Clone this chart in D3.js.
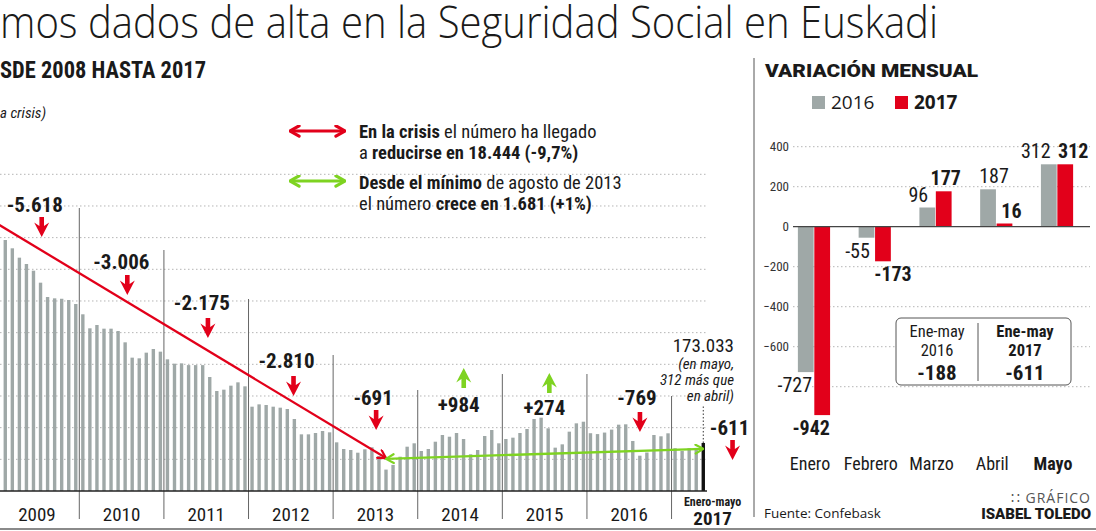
<!DOCTYPE html>
<html>
<head>
<meta charset="utf-8">
<script src="https://cdnjs.cloudflare.com/ajax/libs/d3/7.8.5/d3.min.js"></script>
<style>
  body { margin: 0; background: #fff; }
  svg { display: block; }
  text { font-family: 'Liberation Sans Narrow', 'Roboto Condensed', 'DejaVu Sans Condensed', sans-serif; fill: #1a1a1a; }
</style>
</head>
<body>
<div id="chart"></div>
<script>
// ---- data ----
const afiliados2009 = [186400, 185851, 185326, 184735, 184335, 183913, 183156, 182251, 182167, 182140, 182062, 181809];
const afiliados2010 = [181159, 180274, 180483, 180251, 180251, 180104, 179389, 178421, 178379, 178736, 178967, 178799];
const afiliados2011 = [178315, 178041, 178060, 177950, 177950, 177950, 177199, 176315, 176399, 176652, 176862, 176610];
const afiliados2012 = [175325, 175472, 175431, 175325, 175262, 175178, 174547, 173578, 173578, 173663, 173789, 173705];
const afiliados2013 = [173073, 172652, 172589, 172419, 172633, 172760, 172210, 171352, 171650, 172166, 172798, 173012];
const afiliados2014 = [172526, 172652, 173113, 173536, 173429, 173663, 173284, 172318, 172589, 173473, 173852, 173012];
const afiliados2015 = [173284, 173368, 173663, 173915, 174547, 174631, 173957, 172737, 172947, 173747, 174273, 174376];
const afiliados2016 = [173649, 173594, 173690, 173877, 174189, 174212, 173158, 172229, 172431, 173536, 173454, 173643];
const afiliados2017 = [172701, 172528, 172705, 172721, 173033];

const years = [2009, 2010, 2011, 2012, 2013, 2014, 2015, 2016, 2017];
const yearChanges = ["-5.618", "-3.006", "-2.175", "-2.810", "-691", "+984", "+274", "-769", "-611"];
const gridValues = [172000, 174000, 176000, 178000, 180000, 182000, 184000, 186000, 188000, 190000];

// arrows: crisis (peak Feb 2008 -> Aug 2013), recovery (Aug 2013 -> May 2017)
const crisisArrow = [{ key: "2008-02", value: 189796 }, { key: "2013-08", value: 172080 }];
const recoveryArrow = [{ key: "2013-08", value: 172030 }, { key: "2017-05", value: 172660 }];

const meses = ["Enero", "Febrero", "Marzo", "Abril", "Mayo"];
const var2016 = [-727, -55, 96, 187, 312];
const var2017 = [-942, -173, 177, 16, 312];
const varTicks = [400, 200, 0, -200, -400, -600];
const varGrid = [400, 200, -200, -400, -600, -800];
const resumen = [{ label: "Ene-may", year: "2016", total: "-188", bold: false },
                 { label: "Ene-may", year: "2017", total: "-611", bold: true }];

// ---- layout ----
const W = 1096, H = 531;
const GREY = "#9fa8a7", RED = "#e2001a", GREEN = "#7ed321";

// annotation placement per year (px from the start of the year's column)
const annotLayout = [
  { dx: 40, y: 212, adx: 47, ay: 217 },
  { dx: 42, y: 269, adx: 48, ay: 275 },
  { dx: 38, y: 310, adx: 44, ay: 318 },
  { dx: 38, y: 368, adx: 45, ay: 376 },
  { dx: 40, y: 405, adx: 43, ay: 410 },
  { dx: 41, y: 412, adx: 46, ay: 368 },
  { dx: 42, y: 415, adx: 47, ay: 373 },
  { dx: 50, y: 405, adx: 53, ay: 412 },
  { dx: 58, y: 435, adx: 61, ay: 440 }
];
const dividerTops = [208, 250, 299, 355, 390, 374, 374, 396];
const varLabelDx = { 2016: [-11, -9, -9, 6, -13], 2017: [-11, 10, 2, 7, 8] };

const svg = d3.select("#chart").append("svg")
    .attr("width", W)
    .attr("height", H);

const defs = svg.append("defs");
function addMarker(id, color, size, sw) {
  defs.append("marker")
      .attr("id", id)
      .attr("viewBox", "0 0 10 10")
      .attr("refX", 9).attr("refY", 5)
      .attr("markerUnits", "userSpaceOnUse")
      .attr("markerWidth", size).attr("markerHeight", size)
      .attr("orient", "auto-start-reverse")
      .append("path")
      .attr("d", "M2,1 L9,5 L2,9")
      .attr("fill", "none")
      .attr("stroke", color)
      .attr("stroke-width", sw)
      .attr("stroke-linecap", "round");
}
addMarker("headRed", RED, 11, 2);
addMarker("headGreen", GREEN, 11, 2);
addMarker("legRed", RED, 13, 2.4);
addMarker("legGreen", GREEN, 13, 2.4);

// ---- titles ----
svg.append("text")
    .attr("x", 0).attr("y", 38)
    .style("font-family", "'Open Sans', Lato, sans-serif")
    .style("font-weight", 300)
    .style("font-size", "44px")
    .attr("textLength", 938)
    .attr("lengthAdjust", "spacingAndGlyphs")
    .text("mos dados de alta en la Seguridad Social en Euskadi");

svg.append("text")
    .attr("x", 0).attr("y", 78)
    .style("font-weight", 700)
    .style("font-size", "23px")
    .attr("textLength", 206)
    .attr("lengthAdjust", "spacingAndGlyphs")
    .text("SDE 2008 HASTA 2017");

svg.append("text")
    .attr("x", 0).attr("y", 118)
    .style("font-style", "italic")
    .style("font-size", "15px")
    .text("a crisis)");

// ---- main chart ----
const monthKeys = [];
for (let yr = 2008; yr <= 2017; yr++) {
  for (let m = 1; m <= 12; m++) {
    if (yr === 2017 && m > 5) break;
    monthKeys.push(`${yr}-${String(m).padStart(2, "0")}`);
  }
}
const seriesByYear = [afiliados2009, afiliados2010, afiliados2011, afiliados2012, afiliados2013,
                      afiliados2014, afiliados2015, afiliados2016, afiliados2017];
const bars = seriesByYear.flatMap((vals, j) =>
  vals.map((v, i) => ({ key: `${years[j]}-${String(i + 1).padStart(2, "0")}`, value: v })));

const x = d3.scaleBand()
    .domain(monthKeys)
    .range([-89.9, 706.8])
    .paddingInner(0.52)
    .paddingOuter(0.26);
const y = d3.scaleLinear()
    .domain([170000, 190000])
    .range([491, 174.3]);

const cellStart = k => x(k) - x.step() * x.paddingOuter();
const yearStart = yr => cellStart(`${yr}-01`);
const mid = k => x(k) + x.bandwidth() / 2;

const main = svg.append("g");

// dotted gridlines
main.selectAll(".grid")
    .data(gridValues)
    .join("line")
    .attr("class", "grid")
    .attr("x1", 0).attr("x2", 708)
    .attr("y1", d => y(d)).attr("y2", d => y(d))
    .attr("stroke", "#b5b5b5")
    .attr("stroke-width", 1)
    .attr("stroke-dasharray", "1.5,2.5");

// bars
main.selectAll(".bar")
    .data(bars)
    .join("rect")
    .attr("class", "bar")
    .attr("x", d => x(d.key))
    .attr("width", x.bandwidth())
    .attr("y", d => y(d.value))
    .attr("height", d => y(170000) - y(d.value))
    .attr("fill", (d, i) => i === bars.length - 1 ? "#111" : GREY);

// year dividers
main.selectAll(".divider")
    .data(years.slice(0, -1))
    .join("line")
    .attr("class", "divider")
    .attr("x1", d => yearStart(d + 1)).attr("x2", d => yearStart(d + 1))
    .attr("y1", (d, i) => dividerTops[i]).attr("y2", 519)
    .attr("stroke", "#666")
    .attr("stroke-width", 1);

// baseline
main.append("line")
    .attr("x1", 0).attr("x2", 707)
    .attr("y1", y(170000)).attr("y2", y(170000))
    .attr("stroke", "#222")
    .attr("stroke-width", 1.6);

// year labels
main.selectAll(".year-label")
    .data(years.slice(0, -1))
    .join("text")
    .attr("class", "year-label")
    .attr("x", d => yearStart(d) + 6 * x.step())
    .attr("y", 521)
    .attr("text-anchor", "middle")
    .style("font-size", "19px")
    .text(d => d);

main.append("text")
    .attr("x", yearStart(2017) + 41).attr("y", 506)
    .attr("text-anchor", "middle")
    .style("font-size", "12px").style("font-weight", 700)
    .text("Enero-mayo");
main.append("text")
    .attr("x", yearStart(2017) + 41).attr("y", 525)
    .attr("text-anchor", "middle")
    .style("font-size", "19px").style("font-weight", 700)
    .text("2017");

// crisis and recovery arrows
const line = d3.line().x(d => mid(d.key)).y(d => y(d.value));
main.append("path")
    .attr("d", line(crisisArrow))
    .attr("fill", "none")
    .attr("stroke", RED)
    .attr("stroke-width", 2.3)
    .attr("marker-end", "url(#headRed)");
main.append("path")
    .attr("d", line(recoveryArrow))
    .attr("fill", "none")
    .attr("stroke", GREEN)
    .attr("stroke-width", 2.3)
    .attr("marker-start", "url(#headGreen)")
    .attr("marker-end", "url(#headGreen)");

// yearly change annotations
const arrowDown = "M-2.3,0 L2.3,0 L2.3,9 L7.5,5.5 L0,20 L-7.5,5.5 L-2.3,9 Z";
const arrowUp = "M-2.3,20 L2.3,20 L2.3,11 L7.5,14.5 L0,0 L-7.5,14.5 L-2.3,11 Z";
years.forEach((yr, i) => {
  const lay = annotLayout[i];
  const up = yearChanges[i].startsWith("+");
  main.append("text")
      .attr("x", yearStart(yr) + lay.dx).attr("y", lay.y)
      .attr("text-anchor", "middle")
      .style("font-size", "21px").style("font-weight", 700)
      .text(yearChanges[i]);
  main.append("path")
      .attr("transform", `translate(${yearStart(yr) + lay.adx},${lay.ay})`)
      .attr("d", up ? arrowUp : arrowDown)
      .attr("fill", up ? GREEN : RED);
});

// last value callout
const lastBar = bars[bars.length - 1];
main.append("line")
    .attr("x1", mid(lastBar.key)).attr("x2", mid(lastBar.key))
    .attr("y1", y(lastBar.value)).attr("y2", 406)
    .attr("stroke", "#333").attr("stroke-width", 1)
    .attr("stroke-dasharray", "1.5,2");
main.append("text")
    .attr("x", 734).attr("y", 352)
    .attr("text-anchor", "end")
    .style("font-size", "19px")
    .text(d3.format(",")(lastBar.value).replace(",", "."));
["(en mayo,", "312 más que", "en abril)"].forEach((t, i) => {
  main.append("text")
      .attr("x", 734).attr("y", 369 + i * 16)
      .attr("text-anchor", "end")
      .style("font-size", "15px").style("font-style", "italic")
      .text(t);
});

// legend of the arrows
function richLine(xp, yp, parts) {
  const t = svg.append("text").attr("x", xp).attr("y", yp).style("font-size", "18.5px");
  parts.forEach(([s, b]) => t.append("tspan").style("font-weight", b ? 700 : 400).text(s));
}
svg.append("line").attr("x1", 290).attr("x2", 345).attr("y1", 131).attr("y2", 131)
    .attr("stroke", RED).attr("stroke-width", 3)
    .attr("marker-start", "url(#legRed)").attr("marker-end", "url(#legRed)");
svg.append("line").attr("x1", 290).attr("x2", 345).attr("y1", 181).attr("y2", 181)
    .attr("stroke", GREEN).attr("stroke-width", 3)
    .attr("marker-start", "url(#legGreen)").attr("marker-end", "url(#legGreen)");
richLine(359, 138, [["En la crisis", true], [" el número ha llegado", false]]);
richLine(359, 159, [["a ", false], ["reducirse en 18.444 (-9,7%)", true]]);
richLine(359, 189, [["Desde el mínimo", true], [" de agosto de 2013", false]]);
richLine(359, 210, [["el número ", false], ["crece en 1.681 (+1%)", true]]);

// ---- right panel: monthly change ----
svg.append("line")
    .attr("x1", 754).attr("x2", 754).attr("y1", 58).attr("y2", 517)
    .attr("stroke", "#555").attr("stroke-width", 1);

svg.append("text")
    .attr("x", 765).attr("y", 77)
    .style("font-family", "Roboto, 'Open Sans', sans-serif")
    .style("font-weight", 900)
    .style("font-size", "19px")
    .attr("textLength", 213)
    .attr("lengthAdjust", "spacingAndGlyphs")
    .text("VARIACIÓN MENSUAL");

const legendItems = [{ label: "2016", color: GREY, bold: false, x: 812 },
                     { label: "2017", color: RED, bold: true, x: 895 }];
legendItems.forEach(d => {
  svg.append("rect").attr("x", d.x).attr("y", 96).attr("width", 13).attr("height", 13).attr("fill", d.color);
  svg.append("text").attr("x", d.x + 19).attr("y", 109)
      .style("font-size", "19px").style("font-weight", d.bold ? 700 : 400)
      .style("font-family", "'Open Sans', sans-serif")
      .text(d.label);
});

const xm = d3.scaleBand().domain(meses).range([783.6, 1087.4]).paddingInner(0.47).paddingOuter(0.235);
const xs = d3.scaleBand().domain(["2016", "2017"]).range([0, xm.bandwidth()]).paddingInner(0.04);
const yv = d3.scaleLinear().domain([-1000, 400]).range([426.7, 146.7]);

const right = svg.append("g");
right.selectAll(".vgrid")
    .data(varGrid)
    .join("line")
    .attr("class", "vgrid")
    .attr("x1", d => d === -800 ? 812 : 793).attr("x2", 1090)
    .attr("y1", d => yv(d)).attr("y2", d => yv(d))
    .attr("stroke", "#b5b5b5")
    .attr("stroke-dasharray", "1.5,2.5");

const yAxis = d3.axisLeft(yv).tickValues(varTicks).tickSize(0).tickPadding(0);
right.append("g")
    .attr("transform", "translate(789,0)")
    .call(yAxis)
    .call(g => g.select(".domain").remove())
    .selectAll("text")
    .style("font-size", "13px")
    .style("fill", "#333")
    .style("font-family", "'Liberation Sans Narrow', 'Roboto Condensed', sans-serif");

const varData = meses.flatMap((m, i) => [
  { mes: m, serie: "2016", value: var2016[i], idx: i },
  { mes: m, serie: "2017", value: var2017[i], idx: i }
]);

right.selectAll(".vbar")
    .data(varData)
    .join("rect")
    .attr("class", "vbar")
    .attr("x", d => xm(d.mes) + xs(d.serie))
    .attr("width", xs.bandwidth())
    .attr("y", d => yv(Math.max(0, d.value)))
    .attr("height", d => Math.abs(yv(d.value) - yv(0)))
    .attr("fill", d => d.serie === "2016" ? GREY : RED);

right.append("line")
    .attr("x1", 793).attr("x2", 1090)
    .attr("y1", yv(0)).attr("y2", yv(0))
    .attr("stroke", "#444").attr("stroke-width", 1.2);

right.selectAll(".vlabel")
    .data(varData)
    .join("text")
    .attr("class", "vlabel")
    .attr("x", d => xm(d.mes) + xs(d.serie) + xs.bandwidth() / 2 + varLabelDx[d.serie][d.idx])
    .attr("y", d => d.value >= 0 ? yv(d.value) - 6 : yv(d.value) + 20)
    .attr("text-anchor", "middle")
    .style("font-size", "20px")
    .style("font-weight", d => d.serie === "2017" ? 700 : 400)
    .text(d => d.value);

right.selectAll(".mes")
    .data(meses)
    .join("text")
    .attr("class", "mes")
    .attr("x", d => xm(d) + xm.bandwidth() / 2 - 4)
    .attr("y", 470)
    .attr("text-anchor", "middle")
    .style("font-size", "18px")
    .style("font-weight", d => d === "Mayo" ? 700 : 400)
    .text(d => d);

// summary box
right.append("rect")
    .attr("x", 896).attr("y", 318).attr("width", 175).attr("height", 67).attr("rx", 5)
    .attr("fill", "#fff").attr("stroke", "#555").attr("stroke-width", 1);
right.append("line")
    .attr("x1", 978).attr("x2", 978).attr("y1", 323).attr("y2", 381)
    .attr("stroke", "#555");
resumen.forEach((d, i) => {
  const cx = i === 0 ? 937 : 1025;
  const w = d.bold ? 700 : 400;
  right.append("text").attr("x", cx).attr("y", 337).attr("text-anchor", "middle")
      .style("font-size", "16.5px").style("font-weight", w).text(d.label);
  right.append("text").attr("x", cx).attr("y", 356).attr("text-anchor", "middle")
      .style("font-size", "16.5px").style("font-weight", w).text(d.year);
  right.append("text").attr("x", cx).attr("y", 380).attr("text-anchor", "middle")
      .style("font-size", "21px").style("font-weight", 700).text(d.total);
});

// source and credit
svg.append("text")
    .attr("x", 764).attr("y", 518)
    .style("font-family", "'Open Sans', sans-serif")
    .style("font-size", "13.5px")
    .text("Fuente: Confebask");
svg.append("text")
    .attr("x", 1091).attr("y", 503)
    .attr("text-anchor", "end")
    .style("font-family", "'Open Sans', sans-serif")
    .style("font-size", "14px")
    .style("letter-spacing", "1px")
    .style("fill", "#555")
    .text("∷ GRÁFICO");
svg.append("text")
    .attr("x", 1091).attr("y", 519)
    .attr("text-anchor", "end")
    .style("font-family", "Roboto, 'Open Sans', sans-serif")
    .style("font-size", "15px")
    .style("font-weight", 900)
    .text("ISABEL TOLEDO");

// bottom rule
svg.append("line")
    .attr("x1", 0).attr("x2", W).attr("y1", 529).attr("y2", 529)
    .attr("stroke", "#8a8a8a").attr("stroke-width", 2);
</script>
</body>
</html>
